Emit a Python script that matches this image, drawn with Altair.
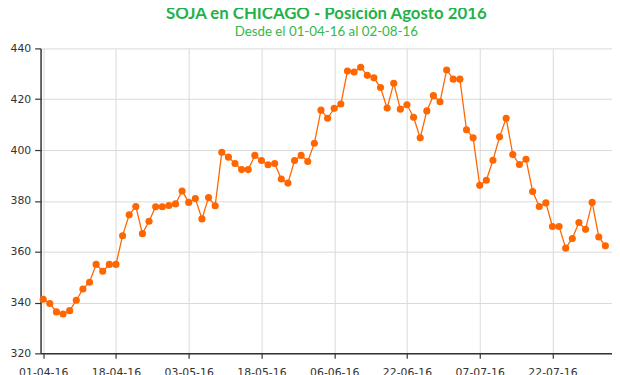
import altair as alt
import pandas as pd

values = [341.3, 339.6, 336.3, 335.5, 336.8, 340.9, 345.3, 348.0, 355.0, 352.3,
          355.0, 355.0, 366.3, 374.5, 377.8, 367.1, 372.0, 377.7, 377.7, 378.2,
          378.8, 383.9, 379.4, 380.9, 372.9, 381.3, 378.1, 399.1, 397.2, 394.7,
          392.3, 392.3, 397.9, 395.9, 394.2, 394.7, 388.6, 387.0, 395.9, 397.9,
          395.5, 402.7, 415.7, 412.5, 416.4, 418.1, 431.1, 430.7, 432.6, 429.4,
          428.4, 424.6, 416.5, 426.3, 416.1, 417.8, 412.9, 404.8, 415.4, 421.4,
          419.0, 431.5, 427.9, 427.9, 408.0, 404.8, 386.1, 388.1, 396.0, 405.2,
          412.5, 398.2, 394.3, 396.4, 383.7, 377.8, 379.2, 369.9, 369.9, 361.4,
          365.2, 371.5, 368.8, 379.4, 365.8, 362.3]

tick_labels = ["01-04-16", "18-04-16", "03-05-16", "18-05-16",
               "06-06-16", "22-06-16", "07-07-16", "22-07-16"]
tick_positions = [0, 11, 22, 33, 44, 55, 66, 77]
y_ticks = [320, 340, 360, 380, 400, 420, 440]

df = pd.DataFrame({"i": list(range(len(values))), "precio": values})

label_expr = "[" + ",".join(f"'{t}'" for t in tick_labels) + "][round(datum.value / 11)]"

x = alt.X("i:Q",
          scale=alt.Scale(domain=[-0.4, 86], nice=False, zero=False),
          axis=alt.Axis(values=tick_positions, labelExpr=label_expr, title=None,
                        grid=True, labelFlush=False, labelOverlap=False,
                        tickSize=5, labelPadding=8))
y = alt.Y("precio:Q",
          scale=alt.Scale(domain=[320, 440], nice=False, zero=False),
          axis=alt.Axis(values=y_ticks, title=None, grid=True, tickSize=6,
                        labelPadding=4))

base = alt.Chart(df).encode(x=x, y=y)
line = base.mark_line(color="#ff6600", strokeWidth=1.3)
pts = base.mark_circle(color="#ff6600", size=52, opacity=1)

chart = (line + pts).properties(
    width=579,
    height=309,
    padding={"left": 33, "top": 38.5, "right": 0, "bottom": 19},
    autosize=alt.AutoSizeParams(type="none"),
    title=alt.TitleParams(
        text="SOJA en CHICAGO - Posición Agosto 2016",
        subtitle="Desde el 01-04-16 al 02-08-16",
        anchor="middle",
        font="Lato", fontSize=17, fontWeight="bold", color="#1fb24a",
        subtitleFont="Lato", subtitleFontSize=13.5, subtitleColor="#34b84c",
        subtitlePadding=2, offset=3,
    ),
).configure_view(stroke=None).configure_axis(
    labelFont="DejaVu Sans", labelFontSize=11, labelColor="#333333",
    domainColor="#333333", domainWidth=1.5, tickColor="#333333", tickWidth=1.2,
    gridColor="#d9d9d9", gridWidth=1,
)

chart.save("out.html", embed_options={"renderer": "svg", "actions": False})
